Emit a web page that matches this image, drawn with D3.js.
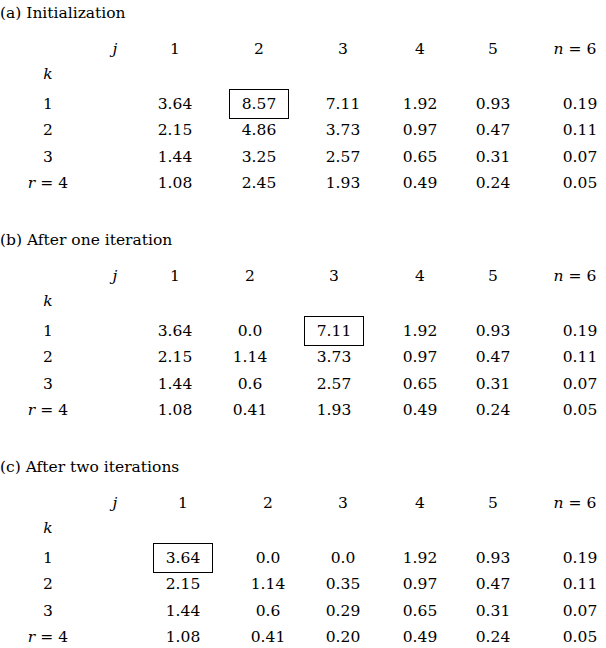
<!DOCTYPE html>
<html><head><meta charset="utf-8">
<script src="https://cdn.jsdelivr.net/npm/d3@7"></script>
<style>body{margin:0;background:#fff}text{font-family:"DejaVu Serif",serif;font-size:15.5px;fill:#000}</style>
</head><body><svg id="c" width="606" height="648"></svg>
<script>
const titles = ["(a) Initialization","(b) After one iteration","(c) After two iterations"];
const colLabels = ["1","2","3","4","5","n = 6"];
const rowLabels = ["1","2","3","r = 4"];
const tableA = [["3.64","8.57","7.11","1.92","0.93","0.19"],["2.15","4.86","3.73","0.97","0.47","0.11"],["1.44","3.25","2.57","0.65","0.31","0.07"],["1.08","2.45","1.93","0.49","0.24","0.05"]];
const tableB = [["3.64","0.0","7.11","1.92","0.93","0.19"],["2.15","1.14","3.73","0.97","0.47","0.11"],["1.44","0.6","2.57","0.65","0.31","0.07"],["1.08","0.41","1.93","0.49","0.24","0.05"]];
const tableC = [["3.64","0.0","0.0","1.92","0.93","0.19"],["2.15","1.14","0.35","0.97","0.47","0.11"],["1.44","0.6","0.29","0.65","0.31","0.07"],["1.08","0.41","0.20","0.49","0.24","0.05"]];
const boxed = [[0,1],[0,2],[0,0]];
const tables=[tableA,tableB,tableC];
const colX=[[175,259,343,420,493,580],[175,250,334,420,493,580],[183,268,343,420,493,580]];
const svg=d3.select("#c");
function eqLabel(sel,v,n){sel.append("tspan").style("font-style","italic").text(v);sel.append("tspan").attr("dx",5).text("=");sel.append("tspan").attr("dx",5).text(n);}
tables.forEach((t,p)=>{
  const top=p*227;
  const g=svg.append("g").attr("transform",`translate(0,${top})`);
  const x=d3.scaleOrdinal().domain(d3.range(6)).range(colX[p]);
  const y=d3.scalePoint().domain(d3.range(4)).range([103,182]);
  g.append("text").attr("x",0).attr("y",18).text(titles[p]);
  g.append("text").attr("x",115).attr("y",54).attr("text-anchor","middle").style("font-style","italic").text("j");
  g.append("text").attr("x",48).attr("y",79).attr("text-anchor","middle").style("font-style","italic").text("k");
  colLabels.forEach((c,i)=>{
    const tx=g.append("text").attr("x",i==5?575:x(i)).attr("y",54).attr("text-anchor","middle");
    if(c.startsWith("n")) eqLabel(tx,"n","6"); else tx.text(c);
  });
  rowLabels.forEach((r,k)=>{
    const tx=g.append("text").attr("x",48).attr("y",y(k)+6).attr("text-anchor","middle");
    if(r.startsWith("r")) eqLabel(tx,"r","4"); else tx.text(r);
    t[k].forEach((v,j)=>g.append("text").attr("x",x(j)).attr("y",y(k)+6).attr("text-anchor","middle").text(v));
  });
  const [bk,bj]=boxed[p];
  g.append("rect").attr("x",x(bj)-29.5).attr("y",y(bk)-13.5).attr("width",59).attr("height",29).attr("fill","none").attr("stroke","#000").attr("stroke-width",1);
});
</script></body></html>
